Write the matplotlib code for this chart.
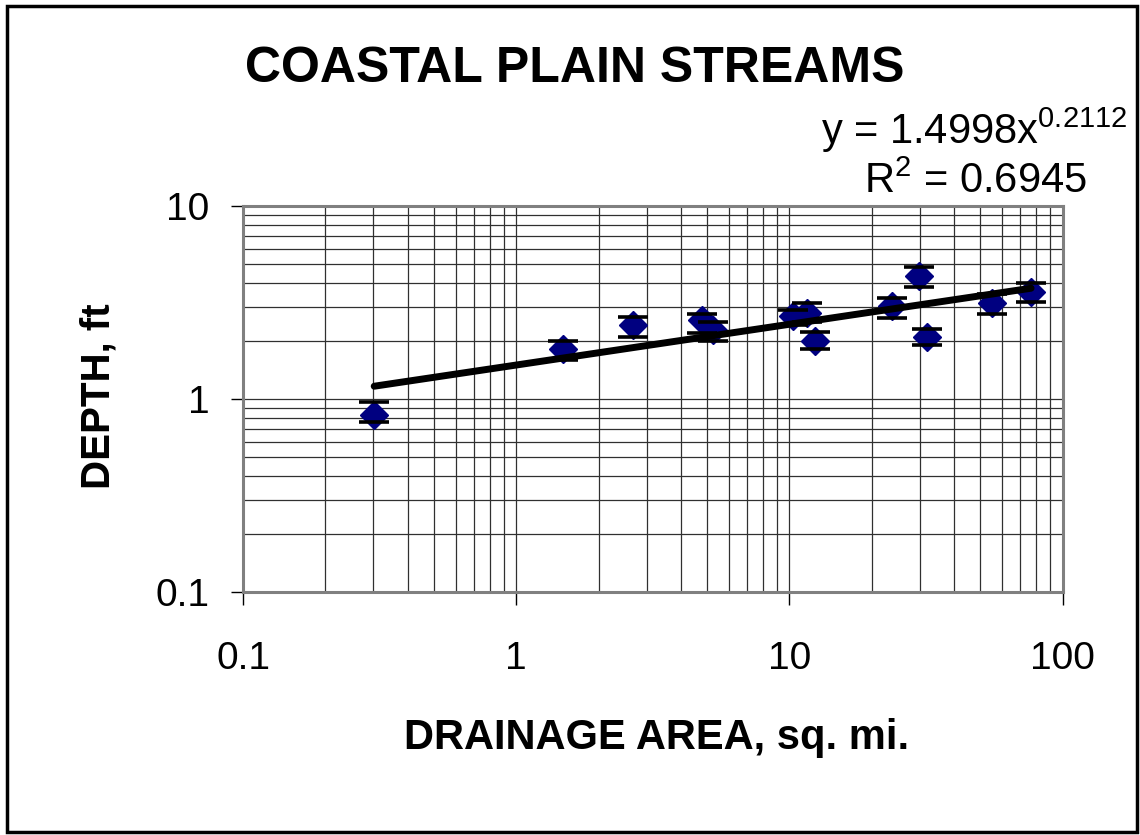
import numpy as np
import matplotlib
matplotlib.use('Agg')
import matplotlib.pyplot as plt
from matplotlib.ticker import FixedLocator, FixedFormatter, LogLocator, NullFormatter
from matplotlib.patches import Rectangle

# Coastal plain stream survey: drainage area (sq. mi.) vs bankfull depth (ft)
area = [0.302, 1.487, 2.68, 4.78, 5.27, 10.33, 11.57, 12.41, 23.7, 29.9, 31.8, 55.3, 76.6]
depth = [0.829, 1.815, 2.424, 2.573, 2.284, 2.677, 2.787, 2.003, 3.015, 4.347, 2.094, 3.162, 3.60]
depth_hi = [0.960, 1.987, 2.645, 2.764, 2.503, 2.894, 3.16, 2.212, 3.333, 4.857, 2.303, 3.48, 3.985]
depth_lo = [0.757, 1.598, 2.084, 2.196, 1.987, 2.41, 2.51, 1.815, 2.626, 3.826, 1.894, 2.764, 3.177]

# power trendline
coef = 1.4998
expo = 0.2112
r2 = 0.6945

x_ticks = [0.1, 1, 10, 100]
x_ticklabels = ['0.1', '1', '10', '100']
y_ticks = [0.1, 1, 10]
y_ticklabels = ['0.1', '1', '10']

plt.rcParams['font.family'] = ['Liberation Sans', 'DejaVu Sans']
plt.rcParams['mathtext.default'] = 'regular'

fig = plt.figure(figsize=(11.4, 8.35), dpi=100)
ax = fig.add_axes([0.2132, 0.291, 0.719, 0.4623])
ax.set_xscale('log')
ax.set_yscale('log')
ax.set_xlim(0.1, 100)
ax.set_ylim(0.1, 10)

ax.grid(True, which='both', color='#303030', lw=0.9)
ax.set_axisbelow(True)

# data points with error caps
ax.plot(area, depth, 'D', color='#000080', ms=14, zorder=3)
ax.plot(area, depth_hi, '_', color='black', ms=22, mew=2.6, zorder=4)
ax.plot(area, depth_lo, '_', color='black', ms=22, mew=2.6, zorder=4)

xt = np.geomspace(min(area), max(area), 200)
ax.plot(xt, coef * xt ** expo, color='black', lw=5, solid_capstyle='round', zorder=5)

ax.xaxis.set_major_locator(FixedLocator(x_ticks))
ax.xaxis.set_major_formatter(FixedFormatter(x_ticklabels))
ax.yaxis.set_major_locator(FixedLocator(y_ticks))
ax.yaxis.set_major_formatter(FixedFormatter(y_ticklabels))
for axis in (ax.xaxis, ax.yaxis):
    axis.set_minor_locator(LogLocator(base=10, subs=np.arange(2, 10)))
    axis.set_minor_formatter(NullFormatter())
ax.tick_params(which='minor', length=0)
ax.tick_params(which='major', direction='out', length=9, width=1, labelsize=28, color='black')
ax.tick_params(axis='x', pad=26)
ax.tick_params(axis='y', pad=15)

for sp in ax.spines.values():
    sp.set_color('#808080')
    sp.set_linewidth(2.2)

fig.text(0.5044, 1 - 82 / 835, 'COASTAL PLAIN STREAMS', ha='center', va='baseline',
         fontsize=36, weight='bold')
fig.text(0.855, 1 - 144 / 835, 'y = %.4fx$^{%.4f}$' % (coef, expo), ha='center',
         va='baseline', fontsize=30)
fig.text(0.856, 1 - 193 / 835, 'R$^{2}$ = %.4f' % r2, ha='center', va='baseline', fontsize=30)
fig.text(0.576, 1 - 749 / 835, 'DRAINAGE AREA, sq. mi.', ha='center', va='baseline',
         fontsize=30, weight='bold')
fig.text(0.0868, 0.5257, 'DEPTH, ft', rotation=90, ha='center', va='center',
         fontsize=29, weight='bold')

fig.patches.append(Rectangle((0.006, 0.0036), 0.9914, 0.989, transform=fig.transFigure,
                             fill=False, lw=2.5, ec='black'))

fig.savefig('out.png', dpi=100)
